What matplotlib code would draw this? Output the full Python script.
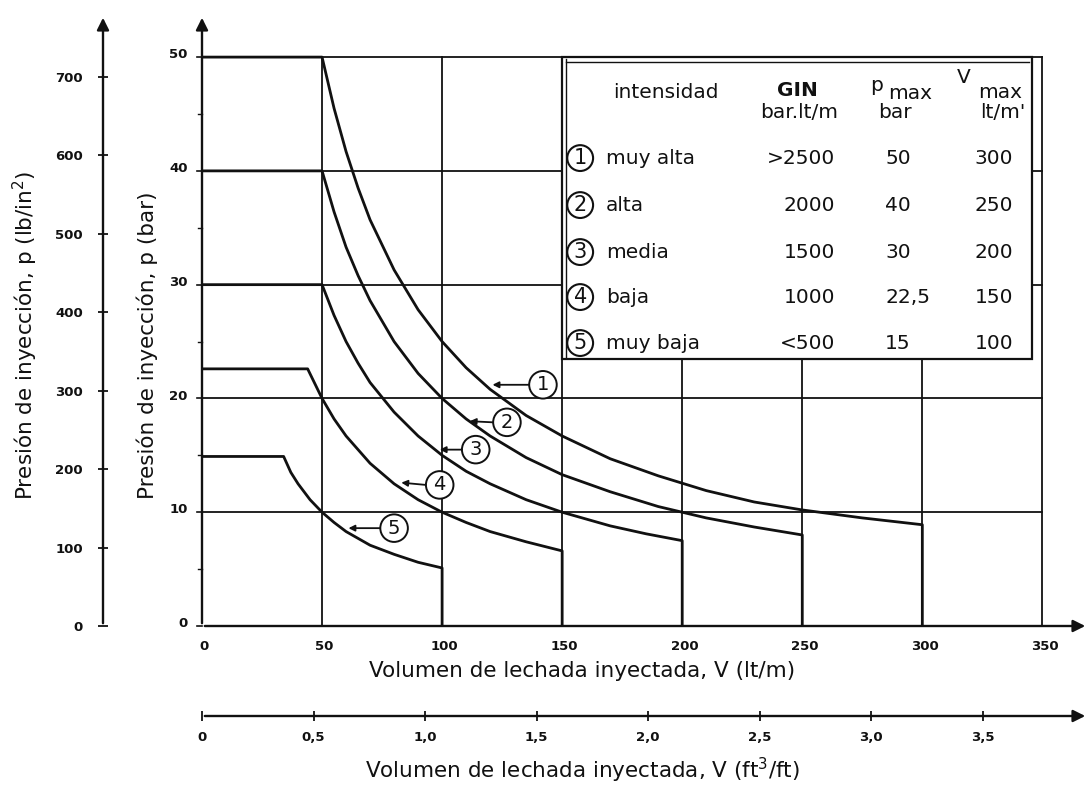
import matplotlib
matplotlib.use("Agg")
import matplotlib.pyplot as plt
from matplotlib.patches import Rectangle

# ---------------- data ----------------
c1_v = [0, 50, 55, 60, 65, 70, 80, 90, 100, 110, 120, 135, 150, 170, 190, 210, 230, 250, 275, 300, 300]
c1_p = [50, 50, 45.5, 41.7, 38.5, 35.7, 31.3, 27.8, 25.0, 22.7, 20.8, 18.5, 16.7, 14.7, 13.2, 11.9, 10.9, 10.2, 9.5, 8.9, 0]
c2_v = [0, 50, 55, 60, 65, 70, 80, 90, 100, 110, 120, 135, 150, 170, 190, 210, 230, 250, 250]
c2_p = [40, 40, 36.4, 33.3, 30.8, 28.6, 25.0, 22.2, 20.0, 18.2, 16.7, 14.8, 13.3, 11.8, 10.5, 9.5, 8.7, 8.0, 0]
c3_v = [0, 50, 55, 60, 65, 70, 80, 90, 100, 110, 120, 135, 150, 170, 185, 200, 200]
c3_p = [30, 30, 27.3, 25.0, 23.1, 21.4, 18.8, 16.7, 15.0, 13.6, 12.5, 11.1, 10.0, 8.8, 8.1, 7.5, 0]
c4_v = [0, 44, 47, 50, 55, 60, 70, 80, 90, 100, 110, 120, 135, 150, 150]
c4_p = [22.6, 22.6, 21.3, 20.0, 18.2, 16.7, 14.3, 12.5, 11.1, 10.0, 9.1, 8.3, 7.4, 6.6, 0]
c5_v = [0, 34, 37, 40, 45, 50, 55, 60, 70, 80, 90, 100, 100]
c5_p = [14.9, 14.9, 13.5, 12.5, 11.1, 10.0, 9.1, 8.3, 7.1, 6.3, 5.6, 5.1, 0]
curves = [(c1_v, c1_p), (c2_v, c2_p), (c3_v, c3_p), (c4_v, c4_p), (c5_v, c5_p)]

# curve labels: circle centre and arrow tip (data units)
label_names = ["1", "2", "3", "4", "5"]
label_xy = [(142, 21.2), (127, 17.9), (114, 15.5), (99, 12.4), (80, 8.6)]
label_tip = [(121, 21.2), (111.5, 18.0), (99, 15.5), (83, 12.6), (61, 8.6)]

# table
tbl_marks = ["1", "2", "3", "4", "5"]
tbl_names = ["muy alta", "alta", "media", "baja", "muy baja"]
tbl_gin = [">2500", "2000", "1500", "1000", "<500"]
tbl_pmax = ["50", "40", "30", "22,5", "15"]
tbl_vmax = ["300", "250", "200", "150", "100"]

x_ticks = [0, 50, 100, 150, 200, 250, 300, 350]
y_ticks = [0, 10, 20, 30, 40, 50]
psi_ticks = [0, 100, 200, 300, 400, 500, 600, 700]
ft_ticks = [0, 0.5, 1.0, 1.5, 2.0, 2.5, 3.0, 3.5]
ft_labels = ["0", "0,5", "1,0", "1,5", "2,0", "2,5", "3,0", "3,5"]

BAR_TO_PSI = 14.5038
LTM_TO_FT3FT = 0.0107639

W, H = 1091, 785
fig = plt.figure(figsize=(W / 100, H / 100), dpi=100)
k = "#111111"
LBL = dict(family="DejaVu Sans", fontsize=15.5, color=k)
TCK = dict(family="DejaVu Sans", fontsize=9.5, fontweight="bold", color=k)

# main axes: pixel x 202..1088 ; y 626..15
XMAX, YMAX = 369, 53.7
x0, x1, y0, y1 = 202, 1088, 626, 15
ax = fig.add_axes([x0 / W, (H - y0) / H, (x1 - x0) / W, (y0 - y1) / H])
ax.set_xlim(0, XMAX)
ax.set_ylim(0, YMAX)
for s in ax.spines.values():
    s.set_visible(False)
ax.set_xticks([])
ax.set_yticks([])


def px2d(px, py):
    return (px - x0) / 2.4, (y0 - py) / (569 / 50)


# grid
for xv in x_ticks[1:]:
    ax.plot([xv, xv], [0, 50], color=k, lw=1.3, zorder=1)
for yv in y_ticks[1:]:
    ax.plot([0, 350], [yv, yv], color=k, lw=1.3, zorder=1)

# axis arrows
ax.annotate("", xy=(XMAX, 0), xytext=(0, 0),
            arrowprops=dict(arrowstyle="-|>", lw=1.7, color=k, mutation_scale=18), zorder=5)
ax.annotate("", xy=(0, YMAX), xytext=(0, 0),
            arrowprops=dict(arrowstyle="-|>", lw=1.7, color=k, mutation_scale=18), zorder=5)

# ticks on bar axis
for yv in y_ticks:
    ax.plot([-2.2, 0], [yv, yv], color=k, lw=1.2, clip_on=False)
    ax.text(-6, yv + 0.2, str(yv), ha="right", va="center", **TCK)
for yv in [5, 15, 25, 35, 45]:
    ax.plot([-1.5, 0], [yv, yv], color=k, lw=1.0, clip_on=False)
for xv in x_ticks:
    ax.text(xv + 1, -1.2, str(xv), ha="center", va="top", **TCK)

# curves
for v, p in curves:
    ax.plot(v, p, color=k, lw=2.0, zorder=4, solid_joinstyle="round")

# curve labels
for name, (cx, cy), (tx, ty) in zip(label_names, label_xy, label_tip):
    ax.text(cx, cy, name, ha="center", va="center", fontsize=14, family="DejaVu Sans",
            color=k, zorder=6,
            bbox=dict(boxstyle="circle,pad=0.22", fc="white", ec=k, lw=1.4))
    ax.annotate("", xy=(tx, ty), xytext=(cx - 5.8, cy),
                arrowprops=dict(arrowstyle="-|>", lw=1.3, color=k, mutation_scale=9,
                                shrinkA=0, shrinkB=0), zorder=6)

# table box
tx0, _ = px2d(562, 0)
tx1, _ = px2d(1032, 0)
_, ty0 = px2d(0, 359)
ty1 = 50
ax.add_patch(Rectangle((tx0, ty0), tx1 - tx0, ty1 - ty0, fc="white", ec=k, lw=1.6, zorder=3))
ax.plot([tx0 + 1.6, tx0 + 1.6], [ty0 + 0.2, ty1 - 0.2], color=k, lw=1.0, zorder=3.5)
ax.plot([tx0 + 1.6, tx1 - 1.6], [ty1 - 0.4, ty1 - 0.4], color=k, lw=1.0, zorder=3.5)

TB = dict(family="DejaVu Sans", fontsize=14.5, color=k, zorder=6)


def ptext(px, py, s, **kw):
    dx, dy = px2d(px, py)
    opts = dict(TB)
    opts.update(kw)
    ax.text(dx, dy, s, **opts)


ptext(666, 92, "intensidad", ha="center", va="center")
ptext(797, 90, "GIN", ha="center", va="center", fontweight="bold")
ptext(799, 112, "bar.lt/m", ha="center", va="center")
ptext(876, 85, "p", ha="center", va="center")
ptext(910, 93, "max", ha="center", va="center")
ptext(895, 112, "bar", ha="center", va="center")
ptext(963, 77, "V", ha="center", va="center")
ptext(1000, 92, "max", ha="center", va="center")
ptext(1002, 112, "lt/m'", ha="center", va="center")

row_py = [158, 205, 252, 297, 343]
for i in range(5):
    py = row_py[i]
    ptext(580, py, tbl_marks[i], ha="center", va="center", fontsize=15,
          bbox=dict(boxstyle="circle,pad=0.14", fc="white", ec=k, lw=1.5))
    ptext(606, py, tbl_names[i], ha="left", va="center")
    ptext(835, py, tbl_gin[i], ha="right", va="center")
    ptext(885, py, tbl_pmax[i], ha="left", va="center")
    ptext(1013, py, tbl_vmax[i], ha="right", va="center")

# axis labels on main axes
ax.text(px2d(582, 0)[0], px2d(0, 671)[1], "Volumen de lechada inyectada, V (lt/m)",
        ha="center", va="center", **LBL)
ax.text(px2d(147, 0)[0], px2d(0, 345)[1], "Presión de inyección, p (bar)",
        ha="center", va="center", rotation=90, **LBL)

# psi axis
psi_x = 103
axp = fig.add_axes([psi_x / W, (H - y0) / H, 0.0005, (y0 - y1) / H])
axp.set_ylim(0, YMAX * BAR_TO_PSI)
axp.set_xlim(0, 1)
for s in ["top", "right", "bottom", "left"]:
    axp.spines[s].set_visible(False)
axp.set_xticks([])
axp.set_yticks(psi_ticks)
axp.set_yticklabels([str(t) for t in psi_ticks], **TCK)
axp.tick_params(axis="y", direction="inout", length=7, width=1.3, pad=11, colors=k)
axp.annotate("", xy=(0, YMAX * BAR_TO_PSI), xytext=(0, 0),
             arrowprops=dict(arrowstyle="-|>", lw=1.7, color=k, mutation_scale=18),
             annotation_clip=False)
fig.text(25 / W, (H - 335) / H, "Presión de inyección, p (lb/in$^2$)", ha="center", va="center",
         rotation=90, **LBL)

# ft3/ft axis
ft_y = 716
axf = fig.add_axes([x0 / W, (H - ft_y) / H, (x1 - x0) / W, 0.0005])
axf.set_xlim(0, XMAX * LTM_TO_FT3FT)
axf.set_ylim(0, 1)
for s in ["top", "right", "bottom", "left"]:
    axf.spines[s].set_visible(False)
axf.set_yticks([])
axf.set_xticks(ft_ticks)
axf.set_xticklabels(ft_labels, **TCK)
axf.tick_params(axis="x", direction="inout", length=7, width=1.3, pad=7, colors=k)
axf.annotate("", xy=(XMAX * LTM_TO_FT3FT, 0), xytext=(0, 0),
             arrowprops=dict(arrowstyle="-|>", lw=1.7, color=k, mutation_scale=18),
             annotation_clip=False)
fig.text(582 / W, (H - 770) / H, "Volumen de lechada inyectada, V (ft$^3$/ft)",
         ha="center", va="center", **LBL)

fig.savefig("out.png", dpi=100, facecolor="white")
